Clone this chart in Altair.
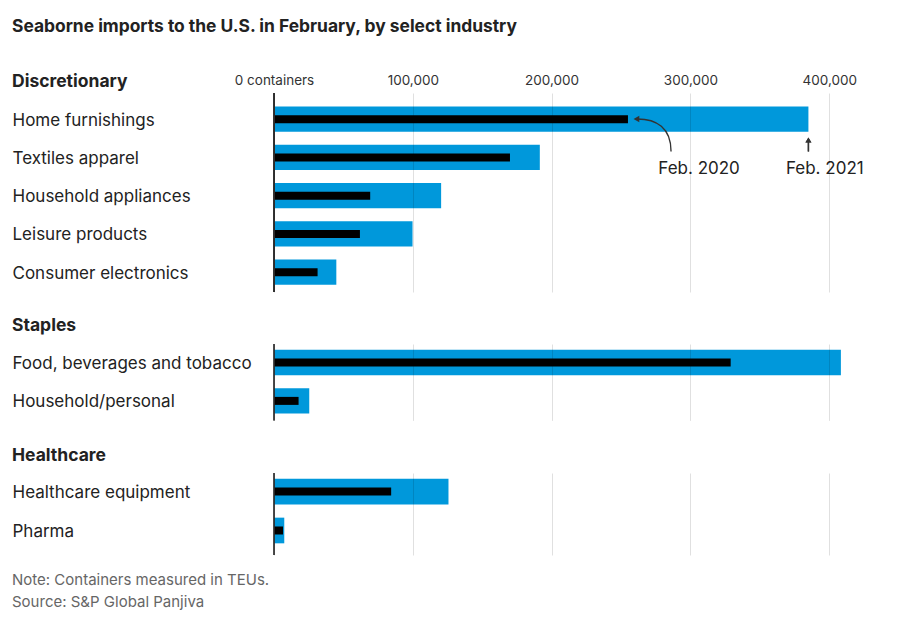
import altair as alt
import pandas as pd

FONT = "Inter"
TEXT = "#222222"
BLUE = "#0098db"

# ---------------- data ----------------
disc_cats = ["Home furnishings", "Textiles apparel", "Household appliances",
             "Leisure products", "Consumer electronics"]
disc_2021 = [385000, 191500, 120400, 99800, 44900]
disc_2020 = [255000, 170000, 69300, 61900, 31400]

stap_cats = ["Food, beverages and tobacco", "Household/personal"]
stap_2021 = [408400, 25400]
stap_2020 = [329000, 17700]

hc_cats = ["Healthcare equipment", "Pharma"]
hc_2021 = [125700, 7400]
hc_2020 = [84400, 6500]

x_ticks = [0, 100000, 200000, 300000, 400000]

anno_labels = ["Feb. 2020", "Feb. 2021"]
anno_label_x = [306200, 396800]
anno_row = "Home furnishings"

W = 583
XMAX = 420000
LABEL_PAD = 262

CURVE = "M0.8425,0.81C0.8425,-0.375,0.1075,-0.81,-0.8425,-0.81"
STEM = "M0,-1L0,1"


def panel(group, cats, v21, v20, height, pad_outer, align, header_y,
          show_labels, annotate=False):
    df = pd.DataFrame({"category": cats, "feb2021": v21, "feb2020": v20})
    xscale = alt.Scale(domain=[0, XMAX], nice=False, zero=True)
    yscale = alt.Scale(domain=cats, paddingInner=0.34,
                       paddingOuter=pad_outer, align=align)
    xaxis = alt.Axis(orient="top", values=x_ticks, labels=show_labels,
                     ticks=False, domain=False, grid=True, gridColor="#000000",
                     gridOpacity=0.12, gridWidth=1, labelFlush=False,
                     labelExpr="datum.value === 0 ? '0 containers' : format(datum.value, ',')",
                     labelFont=FONT, labelFontSize=13.5, labelColor="#333333",
                     labelPadding=6, title=None, zindex=1)
    yaxis = alt.Axis(orient="left", title=None, ticks=False, domain=False,
                     labelAlign="left", labelBaseline="middle",
                     labelOffset=1.5,
                     labelPadding=LABEL_PAD, labelFont=FONT,
                     labelFontSize=17, labelColor=TEXT, labelLimit=400)
    base = alt.Chart(df)
    blue = base.mark_bar(color=BLUE).encode(
        x=alt.X("feb2021:Q", scale=xscale, axis=xaxis),
        y=alt.Y("category:N", scale=yscale, axis=yaxis, sort=None),
    )
    black = base.mark_bar(color="#000000", size=8).encode(
        x=alt.X("feb2020:Q"),
        y=alt.Y("category:N", sort=None),
    )
    zero = base.mark_rule(color="#333333", strokeWidth=1.3).encode(
        x=alt.datum(0)
    )
    header = alt.Chart(pd.DataFrame({"g": [group]})).mark_text(
        align="left", baseline="alphabetic", font=FONT, fontSize=17.5,
        fontWeight="bold", color=TEXT
    ).encode(text="g:N", x=alt.value(-LABEL_PAD), y=alt.value(header_y))
    layers = [blue, black, zero, header]
    if annotate:
        ann = alt.Chart(pd.DataFrame({
            "label": anno_labels, "x": anno_label_x,
            "category": [anno_row] * len(anno_labels)}))
        txt = ann.mark_text(baseline="alphabetic", dy=54.5, font=FONT,
                            fontSize=17, color=TEXT).encode(
            x="x:Q", y=alt.Y("category:N", sort=None), text="label:N")
        arr = alt.Chart(pd.DataFrame({
            "x": [273900, 261100, disc_2021[0], disc_2021[0]],
            "category": [anno_row] * 4}))
        curve = arr.transform_filter(alt.datum.x == 273900).mark_point(
            shape=CURVE, size=1600, filled=False, stroke="#333333",
            strokeWidth=1.4, opacity=1, yOffset=16).encode(
            x="x:Q", y=alt.Y("category:N", sort=None))
        head1 = arr.transform_filter(alt.datum.x == 261100).mark_point(
            shape="triangle-left", size=44, filled=True, color="#333333",
            opacity=1, yOffset=-0.2).encode(
            x="x:Q", y=alt.Y("category:N", sort=None))
        stem = arr.transform_filter(alt.datum.x == disc_2021[0]).mark_point(
            shape=STEM, size=96, filled=False, stroke="#333333",
            strokeWidth=1.4, opacity=1, yOffset=27.4).encode(
            x="x:Q", y=alt.Y("category:N", sort=None))
        head2 = arr.transform_filter(alt.datum.x == disc_2021[0]).mark_point(
            shape="triangle-up", size=36, filled=True, color="#333333",
            opacity=1, yOffset=20.8).encode(
            x="x:Q", y=alt.Y("category:N", sort=None))
        layers += [txt, curve, head1, stem, head2]
    return alt.layer(*layers).properties(width=W, height=height)


g1 = panel("Discretionary", disc_cats, disc_2021, disc_2020, 199, 0.2713,
           0.655, -6, True, annotate=True)
g2 = panel("Staples", stap_cats, stap_2021, stap_2020, 76.4, 0.1648, 0.46,
           -13, False)
g3 = panel("Healthcare", hc_cats, hc_2021, hc_2020, 82, 0.224, 0.33,
           -12.3, False).properties(
    title=alt.TitleParams(
        ["Note: Containers measured in TEUs.", "Source: S&P Global Panjiva"],
        orient="bottom", anchor="start", frame="bounds", font=FONT,
        fontSize=15, fontWeight="normal", color="#666666", lineHeight=22.5,
        offset=17))

chart = alt.vconcat(g1, g2, g3, spacing=52, bounds="flush").properties(
    title=alt.TitleParams(
        "Seaborne imports to the U.S. in February, by select industry",
        anchor="start", frame="bounds", font=FONT, fontSize=17.4,
        fontWeight="bold", color=TEXT, offset=38),
    padding={"left": 4, "top": 9, "right": 5, "bottom": 5},
).configure_view(stroke=None)

chart.save("out.html", embed_options={"renderer": "svg", "actions": False})
